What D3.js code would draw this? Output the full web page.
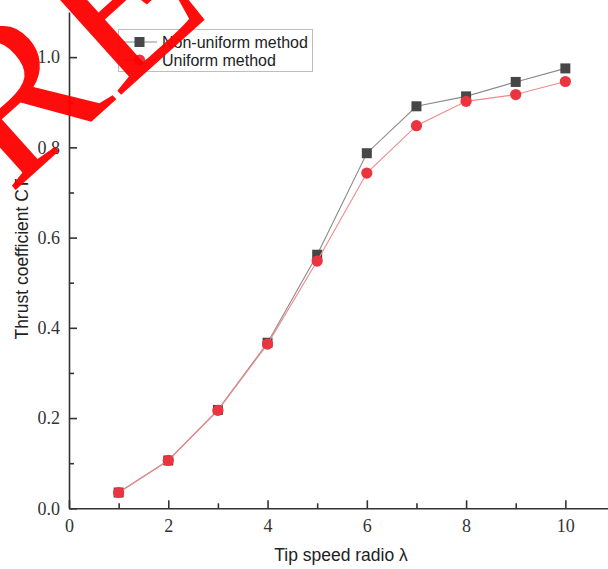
<!DOCTYPE html>
<html>
<head>
<meta charset="utf-8">
<script src="https://cdn.jsdelivr.net/npm/d3@7"></script>
<style>
  body { margin: 0; background: #fff; }
  svg { display: block; }
</style>
</head>
<body>
<svg width="608" height="569"></svg>
<script>
const tsr = [1, 2, 3, 4, 5, 6, 7, 8, 9, 10];
const non_uniform = [0.035, 0.106, 0.218, 0.367, 0.562, 0.787, 0.891, 0.913, 0.945, 0.975];
const uniform = [0.035, 0.106, 0.217, 0.364, 0.548, 0.743, 0.848, 0.902, 0.917, 0.946];
const x_ticks = [0, 2, 4, 6, 8, 10];
const x_minor = [1, 3, 5, 7, 9];
const y_ticks = [0, 0.2, 0.4, 0.6, 0.8, 1.0];
const y_minor = [0.1, 0.3, 0.5, 0.7, 0.9];

const svg = d3.select("svg");
const axis_color = "#333";

const x_scale = d3.scaleLinear().domain([0, 11]).range([69, 615]);
const y_scale = d3.scaleLinear().domain([0, 1.1]).range([508.3, 12]);

// axes, ticks pointing inward
const x_g = svg.append("g").attr("transform", `translate(0, ${y_scale(0)})`);
x_g.call(d3.axisBottom(x_scale).tickValues(x_ticks).tickFormat(d3.format("d"))
    .tickSizeInner(-8).tickSizeOuter(0).tickPadding(11));
x_g.append("g").call(d3.axisBottom(x_scale).tickValues(x_minor).tickFormat("")
    .tickSizeInner(-5).tickSizeOuter(0))
    .select(".domain").remove();

const y_g = svg.append("g").attr("transform", `translate(${x_scale(0)}, 0)`);
y_g.call(d3.axisLeft(y_scale).tickValues(y_ticks).tickFormat(d3.format(".1f"))
    .tickSizeInner(-8).tickSizeOuter(0).tickPadding(9));
y_g.append("g").call(d3.axisLeft(y_scale).tickValues(y_minor).tickFormat("")
    .tickSizeInner(-5).tickSizeOuter(0))
    .select(".domain").remove();

svg.selectAll(".domain, .tick line").attr("stroke", axis_color).attr("stroke-width", 1.6);
svg.selectAll(".tick text")
    .attr("fill", "#333")
    .style("font-family", "'Liberation Serif', 'Times New Roman', serif")
    .style("font-size", "18px");

// axis titles
svg.append("text")
    .attr("x", 341).attr("y", 561)
    .attr("text-anchor", "middle")
    .style("font-family", "'Liberation Sans', Arial, sans-serif")
    .style("font-size", "17.5px")
    .attr("fill", "#222")
    .text("Tip speed radio λ");

svg.append("text")
    .attr("transform", "translate(28, 259) rotate(-90)")
    .attr("text-anchor", "middle")
    .style("font-family", "'Liberation Sans', Arial, sans-serif")
    .style("font-size", "17.5px")
    .attr("fill", "#222")
    .text("Thrust coefficient CT");

// series
const line = d3.line().x((d) => x_scale(d[0])).y((d) => y_scale(d[1]));
const nu_pts = tsr.map((t, i) => [t, non_uniform[i]]);
const u_pts = tsr.map((t, i) => [t, uniform[i]]);

svg.append("path").attr("d", line(nu_pts))
    .attr("fill", "none").attr("stroke", "#8a8a8a").attr("stroke-width", 1.1);
svg.selectAll(".sq").data(nu_pts).enter().append("rect")
    .attr("class", "sq")
    .attr("x", (d) => x_scale(d[0]) - 5).attr("y", (d) => y_scale(d[1]) - 5)
    .attr("width", 10).attr("height", 10)
    .attr("fill", "#474747");

svg.append("path").attr("d", line(u_pts))
    .attr("fill", "none").attr("stroke", "#f08a8a").attr("stroke-width", 1.1);
svg.selectAll(".dot").data(u_pts).enter().append("circle")
    .attr("class", "dot")
    .attr("cx", (d) => x_scale(d[0])).attr("cy", (d) => y_scale(d[1]))
    .attr("r", 5.6)
    .attr("fill", "#ec3440");

// legend
const leg = svg.append("g");
leg.append("rect")
    .attr("x", 118.5).attr("y", 29.5).attr("width", 194).attr("height", 42)
    .attr("fill", "#fff").attr("stroke", "#bdbdbd").attr("stroke-width", 1);
const entries = [
    { name: "Non-uniform method", color: "#8a8a8a", mark: "#474747", shape: "sq" },
    { name: "Uniform method", color: "#f08a8a", mark: "#ec3440", shape: "dot" }
];
entries.forEach((e, i) => {
    const cy = 42 + i * 18;
    leg.append("line").attr("x1", 122).attr("x2", 157).attr("y1", cy).attr("y2", cy)
        .attr("stroke", e.color).attr("stroke-width", 1.1);
    if (e.shape === "sq") {
        leg.append("rect").attr("x", 134.5).attr("y", cy - 5).attr("width", 10).attr("height", 10)
            .attr("fill", e.mark);
    } else {
        leg.append("circle").attr("cx", 139.5).attr("cy", cy).attr("r", 5.6).attr("fill", e.mark);
    }
    leg.append("text").attr("x", 162).attr("y", cy).attr("dy", "0.36em")
        .style("font-family", "'Liberation Sans', Arial, sans-serif")
        .style("font-size", "16px")
        .attr("fill", "#222")
        .text(e.name);
});

// retraction watermark
svg.append("text")
    .attr("transform", "translate(10, 195) rotate(-42)")
    .style("font-family", "'Liberation Serif', 'Times New Roman', serif")
    .style("font-size", "215px")
    .attr("fill", "#ff0000")
    .attr("opacity", 0.95)
    .text("RETRACTED");
</script>
</body>
</html>
